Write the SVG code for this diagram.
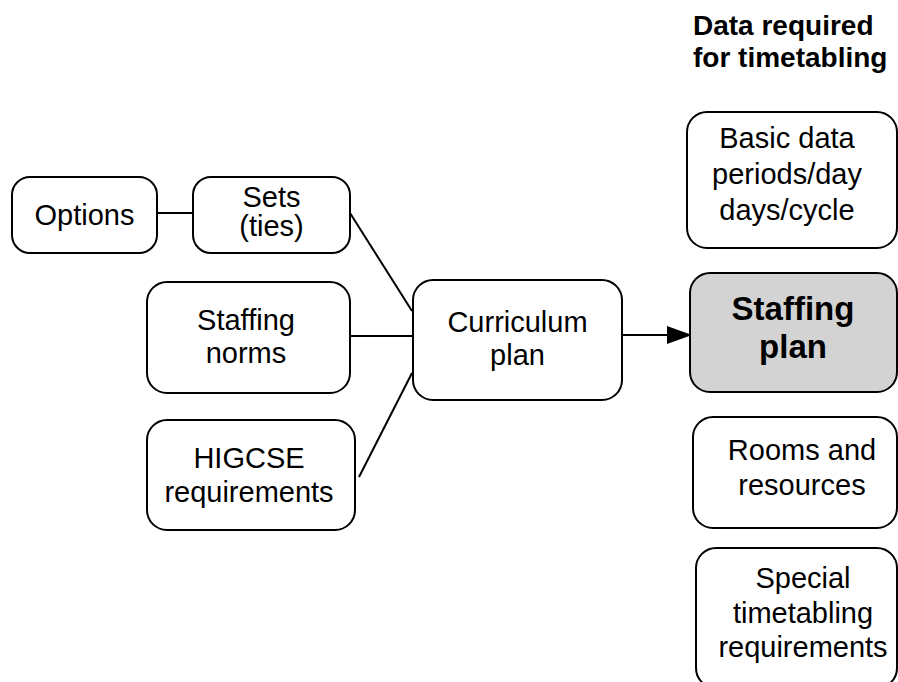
<svg xmlns="http://www.w3.org/2000/svg" width="898" height="682" viewBox="0 0 898 682">
  <style>
    .box { fill: #ffffff; stroke: #000000; stroke-width: 2; }
    .key { fill: #d3d3d3; stroke: #000000; stroke-width: 2; }
    .t { font-family: "Liberation Sans", Arial, sans-serif; font-size: 29px; fill: #000000; text-anchor: middle; }
    .tb { font-family: "Liberation Sans", Arial, sans-serif; font-weight: bold; fill: #000000; }
    .link { fill: none; stroke: #000000; stroke-width: 2; }
  </style>
  <defs>
    <marker id="arrowBig" markerWidth="26" markerHeight="18" refX="24" refY="9" orient="auto" markerUnits="userSpaceOnUse">
      <path d="M0,0 L25,9 L0,18 z" fill="#000000"/>
    </marker>
  </defs>

  <rect width="898" height="682" fill="#ffffff"/>

  <!-- heading of the right-hand column -->
  <g id="heading">
    <text class="tb" x="693" y="35" font-size="28">Data required</text>
    <text class="tb" x="693" y="67" font-size="28">for timetabling</text>
  </g>

  <!-- connectors -->
  <g id="connectors">
    <line class="link" x1="157" y1="213" x2="193" y2="213"/>
    <line class="link" x1="350" y1="213" x2="412" y2="311"/>
    <line class="link" x1="350" y1="336" x2="413" y2="336"/>
    <line class="link" x1="359" y1="477" x2="412" y2="373"/>
    <line class="link" x1="622" y1="335" x2="691" y2="335" marker-end="url(#arrowBig)"/>
  </g>

  <g id="options">
    <rect class="box" x="12" y="177" width="145" height="76" rx="18"/>
    <text class="t" x="84.5" y="225">Options</text>
  </g>

  <g id="sets">
    <rect class="box" x="193" y="177" width="157" height="76" rx="18"/>
    <text class="t" x="271.5" y="207">Sets</text>
    <text class="t" x="271.5" y="236">(ties)</text>
  </g>

  <g id="staffing-norms">
    <rect class="box" x="147" y="282" width="203" height="111" rx="20"/>
    <text class="t" x="246" y="330">Staffing</text>
    <text class="t" x="246" y="363">norms</text>
  </g>

  <g id="higcse">
    <rect class="box" x="147" y="420" width="208" height="110" rx="20"/>
    <text class="t" x="249" y="468">HIGCSE</text>
    <text class="t" x="249" y="502">requirements</text>
  </g>

  <g id="curriculum-plan">
    <rect class="box" x="413" y="280" width="209" height="120" rx="20"/>
    <text class="t" x="517.5" y="332">Curriculum</text>
    <text class="t" x="517.5" y="365">plan</text>
  </g>

  <g id="basic-data">
    <rect class="box" x="687" y="112" width="210" height="136" rx="20"/>
    <text class="t" x="787" y="148">Basic data</text>
    <text class="t" x="787" y="184">periods/day</text>
    <text class="t" x="787" y="220">days/cycle</text>
  </g>

  <g id="staffing-plan">
    <rect class="key" x="690" y="273" width="207" height="119" rx="20"/>
    <text class="tb" x="793" y="320" font-size="33" text-anchor="middle">Staffing</text>
    <text class="tb" x="793" y="358" font-size="33" text-anchor="middle">plan</text>
  </g>

  <g id="rooms">
    <rect class="box" x="693" y="417" width="204" height="111" rx="20"/>
    <text class="t" x="802" y="460">Rooms and</text>
    <text class="t" x="802" y="495">resources</text>
  </g>

  <g id="special">
    <rect class="box" x="696" y="548" width="201" height="140" rx="20"/>
    <text class="t" x="803" y="588">Special</text>
    <text class="t" x="803" y="623">timetabling</text>
    <text class="t" x="803" y="657">requirements</text>
  </g>
</svg>
